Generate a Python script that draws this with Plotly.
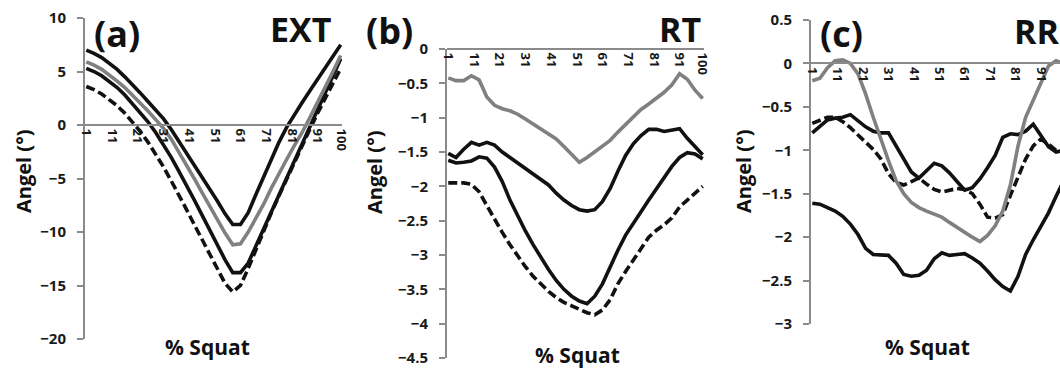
import plotly.graph_objects as go

W, H = 1060, 369

# % squat sample points (every 3rd of 1..100)
pct = list(range(1, 101, 3))
xtick_vals = [1, 11, 21, 31, 41, 51, 61, 71, 81, 91, 100]
xtick_text = [str(v) for v in xtick_vals]

# (a) EXT
ext_black_top = [7.0, 6.7, 6.3, 5.8, 5.2, 4.5, 3.8, 3.0, 2.2, 1.4, 0.6, -0.4, -1.5, -2.6, -3.7, -4.9, -6.0,
                 -7.1, -8.3, -9.3, -9.3, -8.2, -6.5, -4.8, -3.1, -1.6, -0.2, 1.0, 2.1, 3.2, 4.3, 5.4, 6.5, 7.5]
ext_grey = [5.9, 5.6, 5.2, 4.7, 4.1, 3.5, 2.8, 2.0, 1.3, 0.5, -0.3, -1.3, -2.5, -3.7, -5.0, -6.3, -7.6,
            -8.9, -10.1, -11.2, -11.1, -10.0, -8.7, -7.4, -5.9, -4.5, -3.2, -1.9, -0.7, 0.7, 2.1, 3.5, 5.0, 6.5]
ext_black_low = [5.3, 5.0, 4.6, 4.1, 3.5, 2.8, 2.0, 1.2, 0.3, -0.7, -1.8, -3.0, -4.3, -5.6, -7.0, -8.4, -9.8,
                 -11.2, -12.6, -13.8, -13.8, -12.9, -11.3, -9.7, -8.1, -6.5, -5.0, -3.4, -1.8, -0.2, 1.4, 3.0, 4.6, 6.2]
ext_dash = [3.6, 3.3, 2.9, 2.4, 1.8, 1.1, 0.3, -0.6, -1.6, -2.7, -3.9, -5.2, -6.5, -7.9, -9.3, -10.7, -12.1,
            -13.5, -14.8, -15.6, -15.0, -13.4, -11.6, -9.9, -8.2, -6.6, -5.0, -3.4, -1.9, -0.4, 1.1, 2.5, 4.0, 5.3]

# (b) RT
rt_grey = [-0.42, -0.46, -0.46, -0.39, -0.45, -0.7, -0.82, -0.87, -0.9, -0.95, -1.02, -1.09, -1.16, -1.23,
           -1.31, -1.42, -1.54, -1.65, -1.58, -1.5, -1.42, -1.33, -1.21, -1.1, -0.98, -0.88, -0.8, -0.72,
           -0.63, -0.52, -0.36, -0.44, -0.6, -0.72]
rt_black_a = [-1.52, -1.58, -1.46, -1.36, -1.4, -1.36, -1.4, -1.5, -1.58, -1.66, -1.73, -1.81, -1.9, -1.98,
              -2.1, -2.2, -2.28, -2.34, -2.36, -2.34, -2.22, -2.03, -1.78, -1.55, -1.38, -1.26, -1.17, -1.17,
              -1.2, -1.18, -1.16, -1.3, -1.42, -1.54]
rt_black_b = [-1.62, -1.66, -1.65, -1.63, -1.57, -1.59, -1.72, -1.93, -2.2, -2.44, -2.65, -2.85, -3.04, -3.21,
              -3.37, -3.5, -3.6, -3.67, -3.71, -3.6, -3.42, -3.17, -2.93, -2.71, -2.53, -2.37, -2.2, -2.03,
              -1.86, -1.71, -1.58, -1.51, -1.53, -1.6]
rt_dash = [-1.95, -1.95, -1.95, -1.97, -2.08, -2.28, -2.48, -2.67, -2.85, -3.02, -3.17, -3.31, -3.42, -3.53,
           -3.62, -3.69, -3.74, -3.79, -3.84, -3.87, -3.8, -3.65, -3.42, -3.24, -3.07, -2.9, -2.74, -2.64,
           -2.56, -2.46, -2.3, -2.2, -2.1, -2.0]

# (c) RR
rr_grey = [-0.2, -0.17, -0.05, 0.03, 0.04, 0.0, -0.12, -0.35, -0.62, -0.88, -1.12, -1.35, -1.5, -1.6, -1.66,
           -1.7, -1.73, -1.77, -1.83, -1.89, -1.94, -2.0, -2.05, -1.98, -1.87, -1.7, -1.4, -0.95, -0.62, -0.42,
           -0.22, -0.03, 0.03, 0.0]
rr_black_a = [-0.80, -0.72, -0.65, -0.63, -0.62, -0.59, -0.66, -0.73, -0.78, -0.80, -0.80, -0.95, -1.1, -1.25,
              -1.32, -1.24, -1.15, -1.18, -1.26, -1.36, -1.46, -1.43, -1.33, -1.2, -1.06, -0.85, -0.81, -0.82,
              -0.78, -0.70, -0.83, -0.96, -1.02, -1.0]
rr_dash = [-0.69, -0.66, -0.62, -0.62, -0.67, -0.74, -0.82, -0.9, -0.99, -1.1, -1.27, -1.37, -1.40, -1.36,
           -1.32, -1.39, -1.45, -1.48, -1.46, -1.44, -1.45, -1.5, -1.62, -1.77, -1.78, -1.74, -1.52, -1.3,
           -1.1, -0.95, -0.87, -0.93, -1.0, -1.02]
rr_black_b = [-1.61, -1.62, -1.66, -1.7, -1.76, -1.85, -1.97, -2.13, -2.2, -2.2, -2.21, -2.3, -2.43, -2.45,
              -2.44, -2.38, -2.25, -2.18, -2.21, -2.2, -2.19, -2.24, -2.3, -2.39, -2.49, -2.57, -2.62, -2.45,
              -2.2, -2.03, -1.87, -1.72, -1.53, -1.35]

panel_labels = ["(a)", "(b)", "(c)"]
panel_titles = ["EXT", "RT", "RR"]
y_title = "Angel (°)"
x_title = "% Squat"

BLACK = "#111111"
GREY = "#808080"
AXIS = "#8a8a8a"
FONT = "Open Sans"
LW = 3.6
DASH = "9px,4px"

fig = go.Figure()

def add(xa, ya, ys, color, dash=None):
    fig.add_trace(go.Scatter(x=pct, y=ys, mode="lines", xaxis=xa, yaxis=ya,
                             line=dict(color=color, width=LW, dash=dash or "solid"),
                             showlegend=False, hoverinfo="skip"))

add("x", "y", ext_dash, BLACK, DASH)
add("x", "y", ext_black_low, BLACK)
add("x", "y", ext_black_top, BLACK)
add("x", "y", ext_grey, GREY)

add("x2", "y2", rt_dash, BLACK, DASH)
add("x2", "y2", rt_black_b, BLACK)
add("x2", "y2", rt_black_a, BLACK)
add("x2", "y2", rt_grey, GREY)

add("x3", "y3", rr_black_b, BLACK)
add("x3", "y3", rr_dash, BLACK, DASH)
add("x3", "y3", rr_black_a, BLACK)
add("x3", "y3", rr_grey, GREY)

def px(v):
    return v / W

def py(v):
    return 1 - v / H

panels = [
    dict(x0=85, x1=342, yt=18, yb=339, yr=[-20, 10], dt=5, xr=[0.5, 100.5]),
    dict(x0=447, x1=704, yt=49, yb=358, yr=[-4.5, 0], dt=0.5, xr=[0.5, 100.5]),
    dict(x0=811, x1=W, yt=20, yb=324, yr=[-3, 0.5], dt=0.5, xr=[0.5, 0.5 + 249 / 2.54]),
]

tickfont = dict(family=FONT, size=15, color="#1a1a1a", weight="bold")
for k, p in enumerate(panels):
    sfx = "" if k == 0 else str(k + 1)
    yd = [py(p["yb"]), py(p["yt"])]
    zero_pos = yd[0] + (0 - p["yr"][0]) / (p["yr"][1] - p["yr"][0]) * (yd[1] - yd[0])
    fig.layout["xaxis" + sfx] = dict(
        domain=[px(p["x0"]), min(1.0, px(p["x1"]))], range=p["xr"], anchor="free", position=zero_pos,
        showline=True, linecolor=AXIS, linewidth=2, showgrid=False, zeroline=False, automargin=False,
        ticks="", tickmode="array", tickvals=xtick_vals, ticktext=xtick_text, tickangle=90,
        tickfont=dict(family=FONT, size=13, color="#1a1a1a", weight="bold"), fixedrange=True)
    fig.layout["yaxis" + sfx] = dict(
        domain=yd, range=p["yr"], dtick=p["dt"], anchor="x" + sfx, automargin=False,
        showline=True, linecolor=AXIS, linewidth=2, showgrid=False, zeroline=False,
        ticks="outside", ticklen=6, tickwidth=2, tickcolor=AXIS, tickfont=tickfont,
        ticklabelstandoff=8)

ann = []
def text(t, x, y, size, xanchor="center", angle=0):
    ann.append(dict(text=t, x=px(x), y=py(y), xref="paper", yref="paper", showarrow=False,
                    xanchor=xanchor, yanchor="middle", textangle=angle,
                    font=dict(family=FONT, size=size, color="#111111", weight="bold")))

for (xc, yc) in [(23, 172), (374, 173), (743, 172)]:
    text(y_title, xc, yc, 20, angle=-90)
for (xc, yc) in [(207, 347), (577, 355), (927, 347)]:
    text(x_title, xc, yc, 21)
text(panel_labels[0], 117, 33, 36)
text(panel_titles[0], 301, 29, 34)
text(panel_labels[1], 389, 30, 36)
text(panel_titles[1], 680, 29, 34)
text(panel_labels[2], 841, 33, 36)
text(panel_titles[2], 1012, 31, 34, xanchor="left")

fig.update_layout(width=W, height=H, margin=dict(l=0, r=0, t=0, b=0, autoexpand=False),
                  paper_bgcolor="white", plot_bgcolor="white", annotations=ann,
                  font=dict(family=FONT), template="none")

fig.write_html("out.html", config={"displayModeBar": False},
               post_script="document.body.style.margin='0';")
